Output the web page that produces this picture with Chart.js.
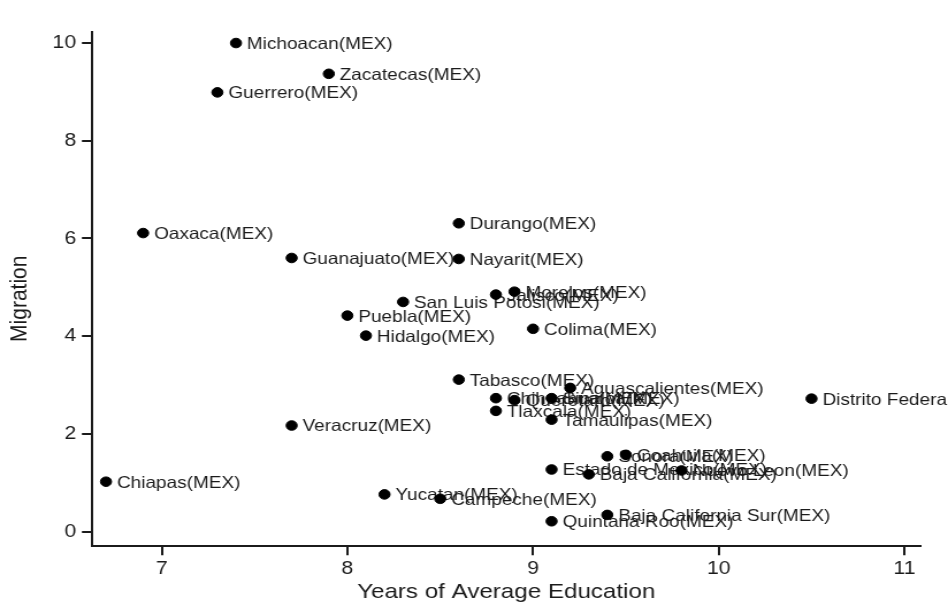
<!DOCTYPE html>
<html>
<head>
<meta charset="utf-8">
<title>Migration and Years of Average Education</title>
<script src="https://cdn.jsdelivr.net/npm/chart.js@4.4.0/dist/chart.umd.min.js"></script>
<style>
  html, body { margin: 0; padding: 0; background: #fff; overflow: hidden; }
  canvas { display: block; }
</style>
</head>
<body>
<!-- drawn at 824 device px and shown 948 px wide: the figure is horizontally stretched -->
<canvas id="chart" width="824" height="607" style="width:948px;height:607px"></canvas>
<script>
// Mexican states: years of average education vs. migration
const states = [
  'Michoacan(MEX)', 'Zacatecas(MEX)', 'Guerrero(MEX)', 'Oaxaca(MEX)',
  'Durango(MEX)', 'Guanajuato(MEX)', 'Nayarit(MEX)', 'Jalisco(MEX)',
  'Morelos(MEX)', 'San Luis Potosi(MEX)', 'Puebla(MEX)', 'Hidalgo(MEX)',
  'Colima(MEX)', 'Tabasco(MEX)', 'Aguascalientes(MEX)', 'Chihuahua(MEX)',
  'Queretaro(MEX)', 'Sinaloa(MEX)', 'Tlaxcala(MEX)', 'Tamaulipas(MEX)',
  'Distrito Federal(MEX)', 'Veracruz(MEX)', 'Chiapas(MEX)', 'Yucatan(MEX)',
  'Campeche(MEX)', 'Quintana Roo(MEX)', 'Baja California Sur(MEX)', 'Coahuila(MEX)',
  'Sonora(MEX)', 'Estado de Mexico(MEX)', 'Baja California(MEX)', 'Nuevo Leon(MEX)'
];
const education = [
  7.4, 7.9, 7.3, 6.9,
  8.6, 7.7, 8.6, 8.8,
  8.9, 8.3, 8.0, 8.1,
  9.0, 8.6, 9.2, 8.8,
  8.9, 9.1, 8.8, 9.1,
  10.5, 7.7, 6.7, 8.2,
  8.5, 9.1, 9.4, 9.5,
  9.4, 9.1, 9.3, 9.8
];
const migration = [
  10.0, 9.37, 8.99, 6.11,
  6.31, 5.60, 5.58, 4.85,
  4.91, 4.70, 4.42, 4.01,
  4.15, 3.11, 2.94, 2.73,
  2.69, 2.73, 2.47, 2.29,
  2.72, 2.17, 1.02, 0.76,
  0.67, 0.21, 0.34, 1.57,
  1.54, 1.27, 1.17, 1.25
];
const xTickValues = [7, 8, 9, 10, 11];
const yTickValues = [0, 2, 4, 6, 8, 10];
const yTitle = 'Migration';

const FONT = '"Liberation Sans", Arial, Helvetica, sans-serif';
const INK = '#1b1b1b';

// state names written to the right of each marker, underneath the markers
const stateLabels = {
  id: 'stateLabels',
  beforeDatasetsDraw(chart) {
    const ctx = chart.ctx;
    const meta = chart.getDatasetMeta(0);
    const size = 16.5;
    ctx.save();
    ctx.font = size + 'px ' + FONT;
    ctx.fillStyle = INK;
    ctx.textAlign = 'left';
    ctx.textBaseline = 'alphabetic';
    meta.data.forEach((pt, i) => {
      ctx.fillText(states[i], pt.x + 9.5, pt.y + size * 0.36);
    });
    ctx.restore();
  }
};

// vertical axis title, set a little below the middle of the plot area
const verticalTitle = {
  id: 'verticalTitle',
  afterDraw(chart) {
    const ctx = chart.ctx;
    const area = chart.chartArea;
    ctx.save();
    ctx.translate(17.4, (area.top + area.bottom) / 2 + 10);
    ctx.rotate(-Math.PI / 2);
    ctx.font = '21px ' + FONT;
    ctx.fillStyle = INK;
    ctx.textAlign = 'center';
    ctx.textBaseline = 'middle';
    ctx.fillText(yTitle, 0, 0);
    ctx.restore();
  }
};

const points = education.map((x, i) => ({ x: x, y: migration[i] }));

new Chart(document.getElementById('chart'), {
  type: 'scatter',
  data: {
    datasets: [{
      data: points,
      pointRadius: 4.8,
      pointHoverRadius: 4.8,
      pointBackgroundColor: '#000',
      pointBorderColor: '#000',
      pointBorderWidth: 1
    }]
  },
  options: {
    responsive: false,
    animation: false,
    events: [],
    layout: { padding: { left: 0, top: 31.8, right: 23.7, bottom: 0 } },
    plugins: {
      legend: { display: false },
      tooltip: { enabled: false }
    },
    scales: {
      x: {
        type: 'linear',
        min: 6.623,
        max: 11.088,
        afterBuildTicks: (scale) => { scale.ticks = xTickValues.map(v => ({ value: v })); },
        afterFit: (scale) => { scale.height = 61.3; },
        border: { display: true, color: INK, width: 2 },
        grid: { display: true, drawOnChartArea: false, drawTicks: true, tickLength: 9.5, color: INK, lineWidth: 2 },
        ticks: { color: INK, padding: 2.5, font: { family: FONT, size: 18.5 } },
        title: {
          display: true,
          text: 'Years of Average Education',
          color: INK,
          font: { family: FONT, size: 21 },
          padding: { top: 2, bottom: 2 }
        }
      },
      y: {
        type: 'linear',
        min: -0.29,
        max: 10.23,
        afterBuildTicks: (scale) => { scale.ticks = yTickValues.map(v => ({ value: v })); },
        afterFit: (scale) => { scale.width = 79.7; },
        border: { display: true, color: INK, width: 2 },
        grid: { display: true, drawOnChartArea: false, drawTicks: true, tickLength: 8.5, color: INK, lineWidth: 2 },
        ticks: { color: INK, padding: 5, font: { family: FONT, size: 18.5 } }
      }
    }
  },
  plugins: [stateLabels, verticalTitle]
});
</script>
</body>
</html>
